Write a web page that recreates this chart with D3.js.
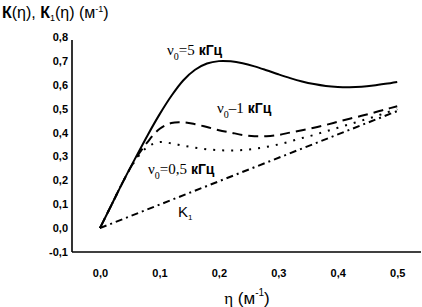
<!DOCTYPE html>
<html>
<head>
<meta charset="utf-8">
<script src="https://cdn.jsdelivr.net/npm/d3@7"></script>
<style>
  body { margin: 0; background: #fff; }
  svg { display: block; }
</style>
</head>
<body>
<script>
const eta = [0, 0.02, 0.04, 0.06, 0.08, 0.1, 0.12, 0.14, 0.16, 0.18, 0.2, 0.22, 0.24,
    0.26, 0.28, 0.3, 0.32, 0.34, 0.36, 0.38, 0.4, 0.42, 0.44, 0.46, 0.48, 0.5];

// K(eta) for nu0 = 5 kHz
const k5 = [0, 0.1, 0.2, 0.295, 0.388, 0.475, 0.553, 0.618, 0.663, 0.689, 0.699, 0.698, 0.69,
    0.677, 0.661, 0.644, 0.628, 0.614, 0.603, 0.595, 0.591, 0.59, 0.592, 0.597, 0.604, 0.612];
// nu0 = 1 kHz
const k1k = [0, 0.1, 0.2, 0.29, 0.36, 0.415, 0.44, 0.443, 0.435, 0.423, 0.41, 0.40, 0.39,
    0.385, 0.385, 0.39, 0.40, 0.41, 0.42, 0.432, 0.445, 0.458, 0.47, 0.483, 0.497, 0.51];
// nu0 = 0.5 kHz
const k05 = [0, 0.1, 0.2, 0.285, 0.34, 0.36, 0.355, 0.345, 0.337, 0.33, 0.326, 0.325, 0.327,
    0.332, 0.34, 0.35, 0.363, 0.377, 0.39, 0.405, 0.42, 0.435, 0.45, 0.465, 0.482, 0.498];
// K1(eta)
const k1Eta = [0, 0.5];
const k1Val = [0, 0.49];

const xTicks = [0, 0.1, 0.2, 0.3, 0.4, 0.5];
const yTicks = [-0.1, 0, 0.1, 0.2, 0.3, 0.4, 0.5, 0.6, 0.7, 0.8];

const w = 422, h = 307;

const svg = d3.select('body').append('svg')
    .attr('width', w)
    .attr('height', h);

const x = d3.scaleLinear().domain([-0.047, 0.54]).range([72, 421]);
const y = d3.scaleLinear().domain([-0.1, 0.8]).range([252, 37]);

const fmt = d => d3.format('.1f')(d).replace('.', ',').replace('−', '-');

// axes
svg.append('g')
    .attr('transform', 'translate(' + x.range()[0] + ',0)')
    .call(d3.axisLeft(y).tickValues(yTicks).tickSize(0).tickPadding(4).tickFormat(fmt))
    .call(g => g.select('.domain').remove())
    .selectAll('text')
    .attr('font-family', 'Liberation Sans, Arial, sans-serif')
    .attr('font-weight', 'bold')
    .attr('font-size', 11)
    .attr('fill', '#000');

svg.append('g')
    .attr('transform', 'translate(0,' + y.range()[0] + ')')
    .call(d3.axisBottom(x).tickValues(xTicks).tickSize(0).tickPadding(17).tickFormat(fmt))
    .call(g => g.select('.domain').remove())
    .selectAll('text')
    .attr('font-family', 'Liberation Sans, Arial, sans-serif')
    .attr('font-weight', 'bold')
    .attr('font-size', 11)
    .attr('fill', '#000');

svg.append('line')
    .attr('x1', x.range()[0]).attr('x2', x.range()[0])
    .attr('y1', y(0.787)).attr('y2', y(-0.1))
    .attr('stroke', '#000').attr('stroke-width', 1.6);
svg.append('line')
    .attr('x1', x.range()[0]).attr('x2', x.range()[1])
    .attr('y1', y(-0.1)).attr('y2', y(-0.1))
    .attr('stroke', '#000').attr('stroke-width', 1.6);

// curves
const line = d3.line()
    .x(d => x(d[0]))
    .y(d => y(d[1]))
    .curve(d3.curveCatmullRom);

const series = [
    { vals: k1Val, xs: k1Eta, dash: '7,4,2,4' },
    { vals: k05, xs: eta, dash: '2,7' },
    { vals: k1k, xs: eta, dash: '10,6' },
    { vals: k5, xs: eta, dash: null }
];

series.forEach(s => {
    svg.append('path')
        .datum(s.xs.map((e, i) => [e, s.vals[i]]))
        .attr('d', line)
        .attr('fill', 'none')
        .attr('stroke', '#000')
        .attr('stroke-width', 2)
        .attr('stroke-dasharray', s.dash);
});

// curve labels
function nuLabel(px, py, num) {
    const t = svg.append('text')
        .attr('x', px).attr('y', py)
        .attr('font-size', 15)
        .attr('fill', '#000');
    t.append('tspan').attr('font-family', 'Liberation Serif, Times New Roman, serif').text('ν');
    t.append('tspan').attr('font-family', 'Liberation Serif, serif').attr('font-size', 10)
        .attr('dy', 5).text('0');
    t.append('tspan').attr('font-family', 'Liberation Serif, serif').attr('dy', -5).text(num);
    t.append('tspan').attr('font-family', 'Liberation Sans, Arial, sans-serif')
        .attr('font-weight', 'bold').attr('font-size', 14).text(' кГц');
}
nuLabel(167, 55, '=5');
nuLabel(217, 113, '–1');
nuLabel(148, 174, '=0,5');

const k1 = svg.append('text')
    .attr('x', 178).attr('y', 217)
    .attr('font-family', 'Liberation Sans, Arial, sans-serif')
    .attr('font-size', 15).attr('fill', '#000');
k1.append('tspan').text('K');
k1.append('tspan').attr('font-size', 8).attr('dy', 3).text('1');

// title
const title = svg.append('text')
    .attr('x', 2).attr('y', 18)
    .attr('font-family', 'Liberation Sans, Arial, sans-serif')
    .attr('font-size', 16).attr('fill', '#000');
title.append('tspan').attr('font-weight', 'bold').text('К');
title.append('tspan').text('(η), ');
title.append('tspan').attr('font-weight', 'bold').text('К');
title.append('tspan').attr('font-size', 9).attr('dy', 3).text('1');
title.append('tspan').attr('dy', -3).text('(η) (м');
title.append('tspan').attr('font-size', 9).attr('dy', -6).text('-1');
title.append('tspan').attr('dy', 6).text(')');

// x label
const xl = svg.append('text')
    .attr('x', 247).attr('y', 304)
    .attr('text-anchor', 'middle')
    .attr('font-family', 'Liberation Sans, Arial, sans-serif')
    .attr('font-size', 17).attr('fill', '#000');
xl.append('tspan').attr('font-family', 'Liberation Serif, serif').text('η');
xl.append('tspan').text(' (м');
xl.append('tspan').attr('font-size', 10).attr('dy', -8).text('-1');
xl.append('tspan').attr('dy', 8).text(')');
</script>
</body>
</html>
